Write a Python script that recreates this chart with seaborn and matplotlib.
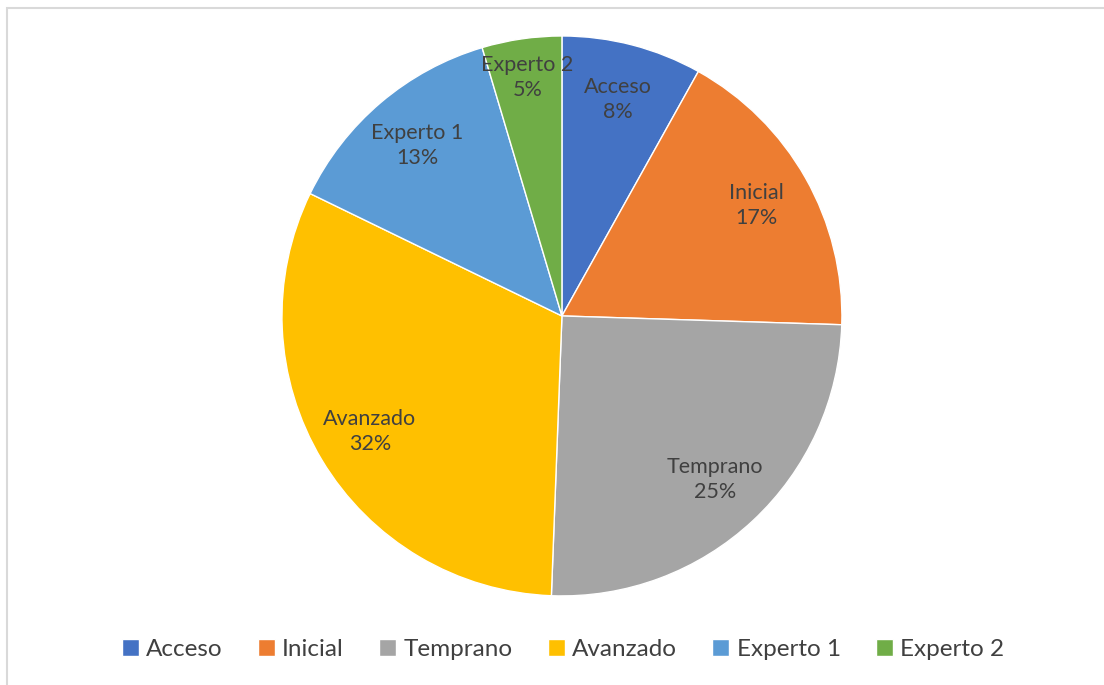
import matplotlib
matplotlib.use("Agg")
import matplotlib.pyplot as plt
import seaborn as sns
from matplotlib.patches import Rectangle
import numpy as np

# ข้อมูลของกราฟ
categories = ["Acceso", "Inicial", "Temprano", "Avanzado", "Experto 1", "Experto 2"]
values = [8.1, 17.4, 25.1, 31.6, 13.2, 4.6]
colors = ["#4472C4", "#ED7D31", "#A5A5A5", "#FFC000", "#5B9BD5", "#70AD47"]

sns.set_theme(style="white")
plt.rcParams["font.family"] = ["Lato", "DejaVu Sans"]

fig = plt.figure(figsize=(11.04, 6.85), dpi=100)
ax = fig.add_axes([0.2554, 0.130, 0.5072, 0.8175])

palette = sns.color_palette(colors)
wedges, _ = ax.pie(values, colors=palette, startangle=90, counterclock=False,
                   wedgeprops=dict(edgecolor="white", linewidth=1.0))
ax.set_aspect("equal")
ax.set_xlim(-1.0, 1.0)
ax.set_ylim(-1.0, 1.0)

total = sum(values)
for w, name, v in zip(wedges, categories, values):
    ang = np.deg2rad((w.theta1 + w.theta2) / 2)
    r = 0.86 if v / total < 0.06 else 0.8
    ax.text(r * np.cos(ang), r * np.sin(ang), f"{name}\n{round(v / total * 100):.0f}%",
            ha="center", va="center", fontsize=15.5, color="#404040", linespacing=1.3)

fig.legend(wedges, categories, loc="center", bbox_to_anchor=(0.51, 0.052), ncol=6,
           frameon=False, fontsize=17.5, handlelength=0.7, handleheight=0.7,
           handletextpad=0.3, columnspacing=1.45, labelcolor="#404040")

# กรอบรอบกราฟ
fig.patches.append(Rectangle((7 / 1104, -0.02), 1.1, 1 - 8 / 685 + 0.02, fill=False,
                             edgecolor="#d9d9d9", linewidth=1.5,
                             transform=fig.transFigure, figure=fig))

fig.savefig("out.png", dpi=100)
